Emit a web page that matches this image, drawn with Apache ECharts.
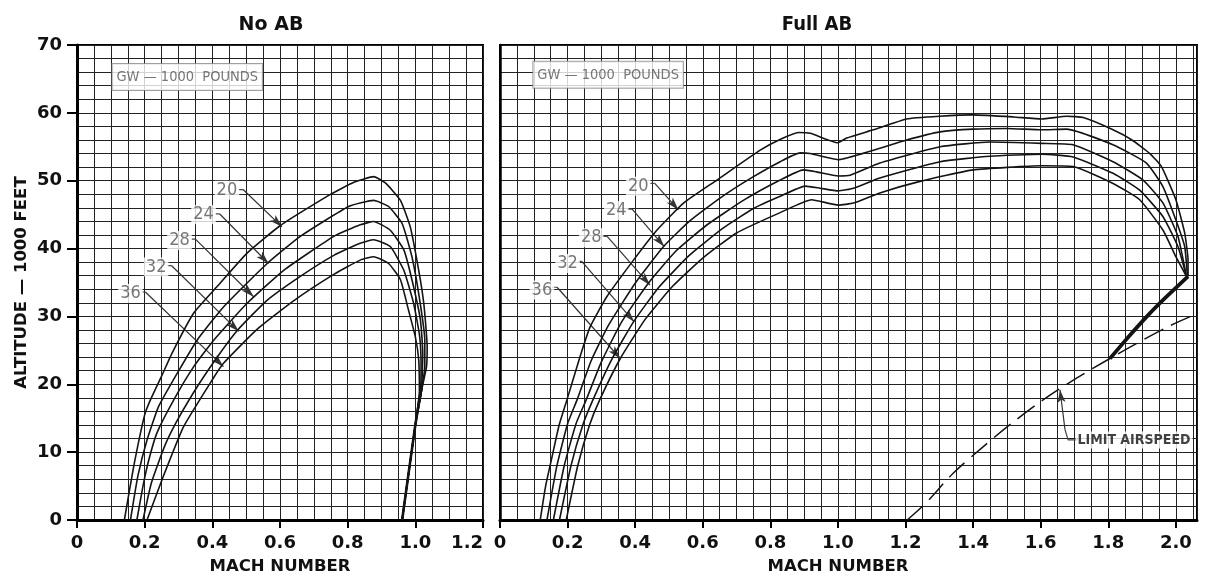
<!DOCTYPE html>
<html><head><meta charset="utf-8">
<script src="https://cdn.jsdelivr.net/npm/echarts@6/dist/echarts.min.js"></script>
<style>html,body{margin:0;padding:0;background:#fff}#c{width:1209px;height:575px}</style>
</head><body><div id="c"></div>
<script>
// ---------- DATA (Mach number, altitude in 1000 ft) ----------
const gwLabels = ['20', '24', '28', '32', '36'];

const noAB_GW20 = [[0.140,0],[0.168,8],[0.200,15.5],[0.217,17.7],[0.25,21.2],[0.281,24.6],[0.345,30.5],[0.414,34.4],[0.502,39.3],[0.601,43.4],[0.739,47.7],[0.82,49.8],[0.877,50.6],[0.913,49.6],[0.956,47.1],[0.985,43.2],[1.01,36.8],[1.025,31.9],[1.035,25.5],[1.033,22.6],[1.018,19],[1.0,14],[0.961,0]];
const noAB_GW24 = [[0.158,0],[0.18,6.5],[0.207,11.8],[0.241,16.7],[0.296,21.6],[0.355,26.5],[0.433,31.4],[0.562,37.8],[0.66,41.8],[0.803,46.2],[0.877,47.1],[0.921,46.2],[0.961,43.7],[0.99,38.8],[1.013,32.4],[1.028,26.5],[1.028,22.6],[1.018,19],[1.0,14],[0.961,0]];
const noAB_GW28 = [[0.177,0],[0.195,5],[0.212,8.8],[0.236,12.8],[0.286,17.7],[0.345,22.6],[0.404,26.5],[0.502,31.9],[0.611,36.8],[0.759,41.8],[0.837,43.5],[0.877,44.0],[0.926,42.7],[0.966,39.8],[0.99,35.4],[1.015,29.5],[1.022,24.6],[1.018,19],[1.0,14],[0.961,0]];
const noAB_GW32 = [[0.195,0],[0.22,5.5],[0.26,11],[0.30,15],[0.36,20],[0.42,24.4],[0.475,28.0],[0.56,32.3],[0.66,35.9],[0.759,39.0],[0.837,40.8],[0.877,41.3],[0.926,40.3],[0.966,36.8],[0.995,31.9],[1.013,27.0],[1.017,22.6],[1.015,19],[1.0,14],[0.961,0]];
const noAB_GW36 = [[0.207,0],[0.251,5.9],[0.315,13.75],[0.399,20.6],[0.433,23.1],[0.532,28.1],[0.64,32.3],[0.759,36.2],[0.837,38.3],[0.877,38.8],[0.921,37.8],[0.956,35.4],[0.98,30.9],[1.0,27.0],[1.01,23.6],[1.012,19],[1.0,14],[0.961,0]];
const noAB_join = [[1.018,19.5],[1.0,14],[0.961,0]];

const fullAB_GW20 = [[0.119,0],[0.135,5],[0.154,9.3],[0.175,14],[0.198,17.7],[0.237,24.1],[0.267,28.5],[0.316,32.9],[0.395,38.3],[0.464,42.7],[0.543,46.7],[0.642,50.1],[0.77,54.5],[0.83,56.1],[0.883,57.1],[0.918,57.0],[1.0,55.6],[1.026,56.3],[1.105,57.5],[1.203,59.1],[1.30,59.5],[1.40,59.7],[1.519,59.4],[1.603,59.1],[1.677,59.5],[1.726,59.3],[1.814,57.5],[1.87,56.0],[1.923,54.0],[1.957,52.1],[2.0,47.2],[2.026,42.3],[2.036,38.3],[2.036,35.9]];
const fullAB_GW24 = [[0.139,0],[0.168,7.9],[0.2,14.2],[0.228,17.7],[0.27,23.5],[0.32,28.6],[0.40,34.9],[0.484,40.3],[0.56,44.0],[0.65,47.4],[0.74,50.3],[0.829,52.8],[0.888,54.1],[0.918,54.0],[1.0,53.1],[1.105,54.5],[1.203,56.0],[1.302,57.2],[1.40,57.6],[1.50,57.7],[1.603,57.5],[1.677,57.6],[1.814,55.3],[1.913,52.6],[1.962,49.1],[2.0,44.2],[2.026,40.3],[2.034,36.0]];
const fullAB_GW28 = [[0.158,0],[0.19,8],[0.225,14.2],[0.255,17.7],[0.30,23.3],[0.36,29.2],[0.439,34.9],[0.52,39.6],[0.61,43.4],[0.72,47.1],[0.829,50.1],[0.898,51.6],[0.937,51.3],[1.001,50.7],[1.036,50.8],[1.124,52.6],[1.302,55.0],[1.45,55.7],[1.603,55.5],[1.696,55.3],[1.814,52.8],[1.903,50.1],[1.962,46.7],[2.006,41.8],[2.03,36.2]];
const fullAB_GW32 = [[0.176,0],[0.21,8],[0.245,14],[0.275,17.7],[0.33,23.6],[0.395,29.2],[0.47,34.3],[0.56,39.0],[0.66,43.0],[0.75,45.9],[0.829,47.7],[0.903,49.2],[0.947,48.9],[1.001,48.5],[1.046,48.9],[1.124,50.4],[1.302,52.8],[1.45,53.6],[1.603,53.9],[1.696,53.5],[1.814,51.1],[1.893,48.6],[1.962,44.7],[2.006,40.3],[2.03,36.1]];
const fullAB_GW36 = [[0.196,0],[0.23,8],[0.265,14],[0.295,17.7],[0.356,23.8],[0.43,29.6],[0.51,34.4],[0.60,38.6],[0.70,42.3],[0.829,45.3],[0.922,47.2],[1.001,46.4],[1.046,46.7],[1.124,48.2],[1.243,49.9],[1.40,51.6],[1.603,52.2],[1.696,52.1],[1.814,49.6],[1.893,47.2],[1.962,42.7],[2.0,38.8],[2.03,36.0]];
const fullAB_join = [[2.036,35.9],[1.97,32.8],[1.92,30.3],[1.86,27.0],[1.805,23.8]];
const limitAirspeed = [[1.205,0],[1.26,2.5],[1.341,6.9],[1.425,10.6],[1.514,14.25],[1.607,17.7],[1.706,20.9],[1.805,23.8],[1.883,26.0],[1.977,28.5],[2.0625,30.4]];

// callouts: [label, labelMach, labelAlt, stubStartMach, stubEndMach, stubAlt, tipMach, tipAlt]
const noAB_callouts = [
  ['20', 0.443, 48.6, 0.478, 0.491, 48.7, 0.606, 43.2],
  ['24', 0.374, 45.0, 0.409, 0.422, 45.1, 0.566, 37.8],
  ['28', 0.303, 41.2, 0.338, 0.350, 41.4, 0.522, 32.9],
  ['32', 0.234, 37.3, 0.266, 0.279, 37.5, 0.478, 27.8],
  ['36', 0.158, 33.4, 0.190, 0.202, 33.6, 0.433, 22.6]
];
const fullAB_callouts = [
  ['20', 0.409, 49.2, 0.444, 0.458, 49.6, 0.528, 45.7],
  ['24', 0.344, 45.6, 0.376, 0.391, 45.8, 0.486, 40.3],
  ['28', 0.270, 41.6, 0.302, 0.317, 41.8, 0.444, 34.6],
  ['32', 0.200, 37.8, 0.232, 0.242, 38.1, 0.397, 29.2],
  ['36', 0.124, 33.9, 0.154, 0.169, 34.3, 0.356, 23.8]
];
const gwNote = 'GW — 1000  POUNDS';
const gwNotePos = [[0.326, 65.3], [0.320, 65.6]];
const limitLabel = 'LIMIT AIRSPEED';
const limitLabelPos = [1.876, 11.8];
const limitLeader = [[1.710, 11.8], [1.681, 11.8], [1.672, 13.3]];
const limitTip = [1.657, 19.2];

const titles = ['No AB', 'Full AB'];
const xName = 'MACH NUMBER';
const yName = 'ALTITUDE — 1000 FEET';
const altRange = [0, 70];
const machRangeNoAB = [0, 1.2];
const machRangeFullAB = [0, 2.0625];

// ---------- CHART ----------
const INK = '#141414';
const GRIDC = '#222';
const BOLD = "'DejaVu Sans', 'Liberation Sans', sans-serif";
const NARROW = "'Liberation Sans Narrow', 'DejaVu Sans Condensed', sans-serif";

function isMajor(v) { const q = v / 0.2; return Math.abs(q - Math.round(q)) < 1e-6; }
function machFmt(v) { if (!isMajor(v)) return ''; return v === 0 ? '0' : v.toFixed(1); }

function curve(data, xi, yi, w) {
  return { type: 'line', xAxisIndex: xi, yAxisIndex: yi, data: data, symbol: 'none', showSymbol: false,
    smooth: 0.15, silent: true, z: 5, animation: false, lineStyle: { color: INK, width: w || 1.6 } };
}
function callout(c, xi, yi) {
  return [
    { type: 'line', xAxisIndex: xi, yAxisIndex: yi, data: [[c[3], c[5]], [c[4], c[5]]], symbol: 'none',
      silent: true, z: 7, animation: false, lineStyle: { color: '#444', width: 1.2 },
      markLine: { silent: true, animation: false, label: { show: false }, symbol: ['none', 'arrow'],
        lineStyle: { color: '#333', width: 1.2, type: 'solid' },
        data: [[{ coord: [c[4], c[5]], symbol: 'none' }, { coord: [c[6], c[7]], symbol: 'arrow', symbolSize: [6, 13] }]] } },
    { type: 'scatter', xAxisIndex: xi, yAxisIndex: yi, data: [[c[1], c[2]]], symbolSize: 0, silent: true, z: 9, animation: false,
      label: { show: true, position: 'inside', formatter: c[0], fontFamily: NARROW, fontSize: 18, color: '#555',
        backgroundColor: '#fff', padding: [1, 2, 0, 2] } }
  ];
}
function note(pos, xi, yi) {
  return { type: 'scatter', xAxisIndex: xi, yAxisIndex: yi, data: [pos], symbolSize: 0, silent: true, z: 9, animation: false,
    label: { show: true, position: 'inside', formatter: gwNote, fontFamily: NARROW, fontSize: 14.5, color: '#555',
      backgroundColor: '#fff', borderColor: '#888', borderWidth: 1, padding: [6, 4, 5, 4] } };
}

const splitStyle = { show: true, lineStyle: { color: GRIDC, width: 1 } };

const option = {
  animation: false,
  backgroundColor: '#fff',
  title: [
    { text: titles[0], left: 266, top: 11, textAlign: 'center', textStyle: { fontFamily: BOLD, fontWeight: 'bold', fontSize: 19, color: '#111' } },
    { text: titles[1], left: 812, top: 10, textAlign: 'center', textStyle: { fontFamily: "'DejaVu Sans Condensed', 'DejaVu Sans', sans-serif", fontWeight: 'bold', fontSize: 20, color: '#111' } }
  ],
  grid: [
    { left: 77, top: 45, width: 406, height: 475, show: true, borderColor: '#000', borderWidth: 2, backgroundColor: '#fff', containLabel: false, outerBoundsMode: 'none' },
    { left: 500, top: 45, width: 697, height: 475, show: true, borderColor: '#000', borderWidth: 2, backgroundColor: '#fff', containLabel: false, outerBoundsMode: 'none' }
  ],
  xAxis: [
    { type: 'value', gridIndex: 0, min: machRangeNoAB[0], max: machRangeNoAB[1], interval: 0.2, position: 'bottom',
      name: xName, nameLocation: 'middle', nameGap: 38, nameMoveOverlap: false,
      nameTextStyle: { fontFamily: BOLD, fontWeight: 'bold', fontSize: 16.5, color: '#111' },
      axisLine: { show: true, onZero: false, lineStyle: { color: '#000', width: 3 } },
      axisTick: { show: true, length: 8, lineStyle: { color: '#000', width: 2 } },
      axisLabel: { margin: 14, formatter: machFmt, fontFamily: BOLD, fontWeight: 'bold', fontSize: 18, color: '#111', hideOverlap: false, showMinLabel: true, showMaxLabel: true, alignMaxLabel: 'right' },
      splitLine: splitStyle, minorTick: { show: false, splitNumber: 4 }, minorSplitLine: splitStyle },
    { type: 'value', gridIndex: 1, min: machRangeFullAB[0], max: machRangeFullAB[1], interval: 0.2, position: 'bottom',
      name: xName, nameLocation: 'middle', nameGap: 38, nameMoveOverlap: false,
      nameTextStyle: { fontFamily: BOLD, fontWeight: 'bold', fontSize: 16.5, color: '#111', padding: [0, 21, 0, 0] },
      axisLine: { show: true, onZero: false, lineStyle: { color: '#000', width: 3 } },
      axisTick: { show: true, length: 8, lineStyle: { color: '#000', width: 2 } },
      axisLabel: { margin: 14, formatter: machFmt, fontFamily: BOLD, fontWeight: 'bold', fontSize: 18, color: '#111', hideOverlap: false, showMinLabel: true, showMaxLabel: false },
      splitLine: { show: false } },
    { type: 'value', gridIndex: 1, min: machRangeFullAB[0], max: machRangeFullAB[1], interval: 0.05, position: 'bottom',
      axisLine: { show: false }, axisTick: { show: false }, axisLabel: { show: false }, splitLine: splitStyle }
  ],
  yAxis: [
    { type: 'value', gridIndex: 0, min: altRange[0], max: altRange[1], interval: 10, position: 'left',
      name: yName, nameLocation: 'middle', nameGap: 47, nameRotate: 90, nameMoveOverlap: false,
      nameTextStyle: { fontFamily: BOLD, fontWeight: 'bold', fontSize: 16.5, color: '#111' },
      axisLine: { show: true, onZero: false, lineStyle: { color: '#000', width: 3 } },
      axisTick: { show: true, length: 10, lineStyle: { color: '#000', width: 2 } },
      axisLabel: { margin: 15, fontFamily: BOLD, fontWeight: 'bold', fontSize: 18, color: '#111', showMaxLabel: true, showMinLabel: true },
      splitLine: splitStyle, minorTick: { show: false, splitNumber: 5 }, minorSplitLine: splitStyle },
    { type: 'value', gridIndex: 1, min: altRange[0], max: altRange[1], interval: 10, position: 'left',
      axisLine: { show: true, onZero: false, lineStyle: { color: '#000', width: 2.5 } },
      axisTick: { show: false }, axisLabel: { show: false },
      splitLine: splitStyle, minorTick: { show: false, splitNumber: 5 }, minorSplitLine: splitStyle }
  ],
  series: []
};

const noAB = [noAB_GW20, noAB_GW24, noAB_GW28, noAB_GW32, noAB_GW36];
const fullAB = [fullAB_GW20, fullAB_GW24, fullAB_GW28, fullAB_GW32, fullAB_GW36];
noAB.forEach(d => option.series.push(curve(d, 0, 0)));
fullAB.forEach(d => option.series.push(curve(d, 1, 1)));
option.series.push(curve(noAB_join, 0, 0, 2.6));
option.series.push(curve(fullAB_join, 1, 1, 3.8));
option.series.push({ type: 'line', xAxisIndex: 1, yAxisIndex: 1, data: limitAirspeed, symbol: 'none', smooth: 0.3, silent: true, z: 5,
  lineStyle: { color: INK, width: 1.5, type: [21, 9] } });
noAB_callouts.forEach(c => callout(c, 0, 0).forEach(s => option.series.push(s)));
fullAB_callouts.forEach(c => callout(c, 1, 1).forEach(s => option.series.push(s)));
option.series.push(note(gwNotePos[0], 0, 0));
option.series.push(note(gwNotePos[1], 1, 1));
// limit airspeed callout
option.series.push({ type: 'line', xAxisIndex: 1, yAxisIndex: 1, data: limitLeader, symbol: 'none', silent: true, z: 7,
  lineStyle: { color: '#444', width: 1.2 },
  markLine: { silent: true, label: { show: false }, lineStyle: { color: '#333', width: 1.2, type: 'solid' },
    data: [[{ coord: limitLeader[2], symbol: 'none' }, { coord: limitTip, symbol: 'arrow', symbolSize: [6, 13] }]] } });
option.series.push({ type: 'scatter', xAxisIndex: 1, yAxisIndex: 1, data: [limitLabelPos], symbolSize: 0, silent: true, z: 9,
  label: { show: true, position: 'inside', formatter: limitLabel, fontFamily: NARROW, fontWeight: 'bold', fontSize: 14, color: '#111',
    backgroundColor: '#fff', padding: [2, 2, 1, 2] } });

const chart = echarts.init(document.getElementById('c'), null, { renderer: 'canvas' });
chart.setOption(option);
</script></body></html>
